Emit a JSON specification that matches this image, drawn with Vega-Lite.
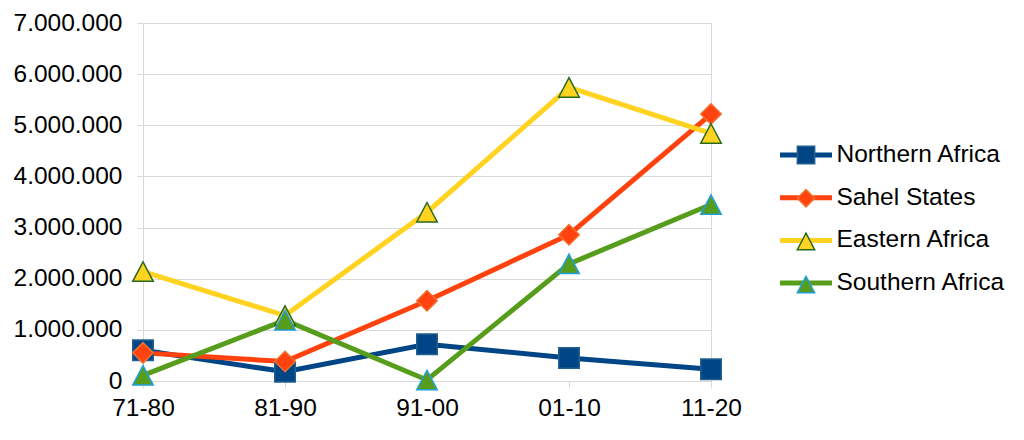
{
  "$schema": "https://vega.github.io/schema/vega-lite/v6.json",
  "width": 568,
  "height": 358,
  "autosize": "none",
  "padding": {"left": 143, "top": 23, "right": 313, "bottom": 59},
  "config": {
    "locale": {"number": {"decimal": ",", "thousands": ".", "grouping": [3], "currency": ["", " €"]}},
    "view": {"stroke": "#d9d9d9", "strokeWidth": 1},
    "font": "Liberation Sans",
    "axis": {"labelFont": "Liberation Sans", "labelFontSize": 24.5, "labelColor": "#000000", "gridColor": "#d9d9d9", "tickColor": "#d9d9d9", "domain": false, "title": null}
  },
  "data": {"values": [
    {"series": "Northern Africa", "period": "71-80", "value": 600000},
    {"series": "Northern Africa", "period": "81-90", "value": 180000},
    {"series": "Northern Africa", "period": "91-00", "value": 720000},
    {"series": "Northern Africa", "period": "01-10", "value": 450000},
    {"series": "Northern Africa", "period": "11-20", "value": 230000},
    {"series": "Sahel States", "period": "71-80", "value": 550000},
    {"series": "Sahel States", "period": "81-90", "value": 380000},
    {"series": "Sahel States", "period": "91-00", "value": 1570000},
    {"series": "Sahel States", "period": "01-10", "value": 2860000},
    {"series": "Sahel States", "period": "11-20", "value": 5220000},
    {"series": "Eastern Africa", "period": "71-80", "value": 2140000},
    {"series": "Eastern Africa", "period": "81-90", "value": 1280000},
    {"series": "Eastern Africa", "period": "91-00", "value": 3300000},
    {"series": "Eastern Africa", "period": "01-10", "value": 5740000},
    {"series": "Eastern Africa", "period": "11-20", "value": 4840000},
    {"series": "Southern Africa", "period": "71-80", "value": 110000},
    {"series": "Southern Africa", "period": "81-90", "value": 1190000},
    {"series": "Southern Africa", "period": "91-00", "value": 20000},
    {"series": "Southern Africa", "period": "01-10", "value": 2290000},
    {"series": "Southern Africa", "period": "11-20", "value": 3450000}
  ]},
  "encoding": {
    "x": {"field": "period", "type": "ordinal", "sort": null, "scale": {"type": "point", "padding": 0},
      "axis": {"labelAngle": 0, "grid": false, "ticks": true, "tickSize": 7, "labelPadding": 8}},
    "y": {"field": "value", "type": "quantitative", "scale": {"domain": [0, 7000000], "nice": false},
      "axis": {"values": [0, 1000000, 2000000, 3000000, 4000000, 5000000, 6000000, 7000000], "format": ",d", "grid": true, "ticks": true, "tickSize": 6, "labelPadding": 15}}
  },
  "layer": [
    {
      "mark": {"type": "line", "strokeWidth": 5},
      "encoding": {
        "color": {"field": "series", "type": "nominal",
          "scale": {"domain": ["Northern Africa", "Sahel States", "Eastern Africa", "Southern Africa"], "range": ["#004586", "#ff420e", "#ffd320", "#579d1c"]},
          "legend": {"orient": "none", "legendX": 650.5, "legendY": 119.5, "title": null, "symbolType": "M-2.6,0H2.6", "symbolSize": 400, "symbolStrokeWidth": 5, "labelFontSize": 24.5, "labelFont": "Liberation Sans", "labelColor": "#000000", "labelOffset": 18, "rowPadding": 17.7, "padding": 0, "labelLimit": 300}}
      }
    },
    {
      "mark": {"type": "point", "filled": true, "opacity": 1, "strokeWidth": 1.5, "size": 420},
      "encoding": {
        "fill": {"field": "series", "type": "nominal", "sort": null,
          "scale": {"range": ["#004586", "#ff420e", "#ffd320", "#579d1c"]},
          "legend": {"orient": "none", "legendX": 650.75, "legendY": 119.75, "title": null, "symbolSize": 300, "symbolStrokeWidth": 1.5, "labelFontSize": 24.5, "labelExpr": "''", "rowPadding": 18.2, "padding": 0}},
        "stroke": {"field": "series", "type": "nominal", "sort": null,
          "scale": {"range": ["#23608f", "#f0702e", "#2a6a1c", "#1fa0dc"]},
          "legend": {"orient": "none", "legendX": 650.75, "legendY": 119.75, "title": null, "symbolSize": 300, "symbolStrokeWidth": 1.5, "labelFontSize": 24.5, "labelExpr": "''", "rowPadding": 18.2, "padding": 0}},
        "shape": {"field": "series", "type": "nominal", "sort": null,
          "scale": {"range": ["square", "diamond", "M0,-0.95L1,0.95L-1,0.95Z", "M0,-0.95L1,0.95L-1,0.95Z"]},
          "legend": {"orient": "none", "legendX": 650.75, "legendY": 119.75, "title": null, "symbolSize": 300, "symbolStrokeWidth": 1.5, "labelFontSize": 24.5, "labelExpr": "''", "rowPadding": 18.2, "padding": 0}}
      }
    }
  ]
}
